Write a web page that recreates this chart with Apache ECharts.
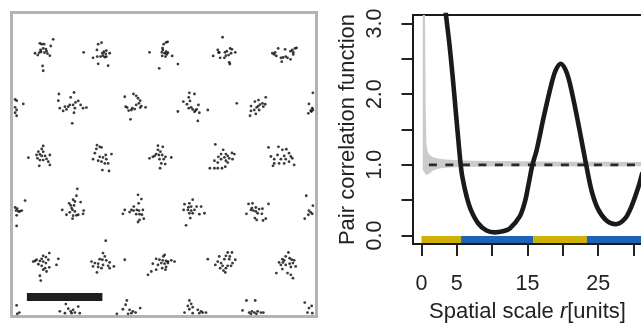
<!DOCTYPE html>
<html>
<head>
<meta charset="utf-8">
<script src="https://cdn.jsdelivr.net/npm/echarts@6/dist/echarts.min.js"></script>
<style>
html,body{margin:0;padding:0;background:#fff;}
#chart{width:641px;height:324px;}
</style>
</head>
<body>
<div id="chart"></div>
<script>
// ---------- Left panel: point pattern (window 0..100 units, y measured from top) ----------
var row1 = [
  [13.3,8.4],[8.9,9.7],[9.5,10.0],[10.3,10.0],[12.5,10.6],[10.0,11.4],[10.9,11.6],[9.3,12.5],[8.7,12.8],[10.4,12.8],[11.4,13.1],[7.3,13.0],[8.2,13.6],[12.2,13.8],[9.8,17.2],[10.0,18.8],[9.1,11.9],[11.1,12.3],
  [28.2,10.0],[29.3,9.5],[27.8,11.9],[30.1,12.5],[30.9,12.1],[32.0,13.0],[23.4,12.7],[26.5,14.5],[27.9,14.1],[29.0,14.1],[29.8,13.8],[30.4,14.3],[30.9,14.1],[28.2,16.5],[31.5,17.1],[29.6,13.0],[30.7,13.2],
  [50.7,9.4],[49.9,10.0],[51.2,9.2],[49.6,11.9],[49.3,12.7],[50.7,12.5],[50.2,13.0],[51.3,12.8],[49.4,13.9],[50.5,14.1],[45.2,12.7],[48.4,18.0],[52.7,13.9],[54.6,16.6],[49.5,11.3],[50.9,13.4],
  [69.4,7.7],[67.8,11.9],[68.3,12.7],[70.2,12.7],[70.8,12.3],[71.9,11.4],[72.5,11.7],[73.6,12.7],[72.2,13.0],[71.4,13.6],[70.5,13.8],[66.3,13.9],[68.6,14.5],[70.0,14.5],[71.6,16.0],[71.8,16.6],[68.1,12.8],
  [93.9,11.2],[93.4,11.4],[92.5,11.9],[91.9,12.3],[92.8,12.7],[90.1,11.7],[87.8,11.4],[86.8,12.7],[85.9,13.0],[87.2,13.9],[88.7,14.5],[89.4,14.4],[90.3,14.1],[90.9,14.5],[91.9,15.0],[89.0,15.8],[92.8,13.4],[86.5,13.4]
];
var row2 = [
  [0.7,28.3],[1.2,28.7],[3.4,29.8],[0.7,30.9],[1.2,31.8],[0.7,32.7],[1.2,33.7],
  [20.2,26.0],[15.2,26.5],[19.1,27.6],[15.0,28.7],[21.6,28.8],[20.7,29.3],[18.8,30.1],[19.9,30.1],[17.2,30.7],[18.3,30.7],[15.5,31.2],[22.4,30.1],[23.2,31.2],[24.3,31.0],[16.6,32.1],[20.5,31.2],[20.2,32.7],[19.6,36.2],[17.7,31.6],
  [39.9,26.5],[40.8,27.1],[37.0,27.4],[41.4,27.9],[42.1,28.7],[41.7,29.6],[40.8,30.1],[42.5,30.5],[42.1,31.0],[43.9,30.9],[37.3,30.7],[37.8,31.0],[39.5,31.2],[39.2,31.8],[40.3,31.5],[38.9,34.9],[38.3,32.0],
  [58.4,26.1],[60.1,26.5],[58.2,27.6],[56.4,29.0],[58.6,28.8],[57.6,29.9],[61.4,30.1],[59.0,30.9],[58.2,31.2],[59.5,31.6],[60.4,32.0],[60.8,31.6],[61.7,32.7],[54.6,32.3],[64.5,31.8],[61.2,35.4],[60.1,32.4],
  [74.1,29.6],[83.7,27.6],[81.3,28.5],[80.1,29.0],[82.6,29.6],[83.5,29.9],[78.8,30.5],[81.2,30.5],[80.7,30.9],[79.9,31.8],[81.5,31.8],[78.8,32.1],[78.5,33.7],[80.4,33.1],[82.9,30.7],[81.8,30.0],
  [99.3,26.1],[98.0,29.8],[99.1,31.2],[98.6,32.0],[97.8,32.9],[98.8,32.3],[99.3,31.8]
];
var row3 = [
  [10.0,43.7],[9.5,44.7],[8.4,45.6],[10.0,45.6],[8.9,46.5],[7.8,46.7],[9.5,47.0],[10.6,47.0],[12.2,46.7],[5.1,47.6],[8.9,48.4],[10.0,48.4],[11.7,48.9],[8.7,50.3],[12.2,50.0],[8.1,47.8],[11.1,48.0],
  [27.8,43.4],[28.7,44.0],[27.6,44.7],[29.3,44.2],[27.1,46.1],[30.7,46.7],[32.6,46.4],[26.5,48.1],[28.7,47.3],[29.8,47.5],[30.9,48.1],[29.3,48.9],[30.4,49.5],[31.5,49.5],[29.6,51.7],[31.8,52.0],[28.2,48.6],
  [48.0,43.6],[49.6,44.0],[48.0,45.0],[48.8,45.6],[47.4,46.4],[48.3,46.7],[49.4,46.7],[46.3,47.3],[45.2,47.8],[50.5,47.3],[52.4,47.5],[48.5,48.1],[49.9,48.1],[49.1,49.5],[50.4,49.7],[48.7,51.1],[46.9,47.0],
  [67.0,43.2],[69.6,45.0],[72.5,46.0],[68.9,46.4],[70.5,46.4],[71.1,47.0],[68.0,47.3],[70.0,47.5],[71.6,47.8],[72.7,48.1],[66.7,48.6],[68.9,48.1],[70.5,48.6],[67.8,49.2],[71.1,49.2],[65.2,51.1],[66.7,51.1],[67.8,51.1],[69.2,51.1],[70.3,50.6],[73.3,46.4],
  [84.6,44.2],[87.9,44.0],[89.2,45.0],[90.5,44.8],[91.4,46.1],[85.4,47.2],[87.6,46.7],[89.8,47.0],[92.0,47.2],[86.5,48.1],[88.7,48.1],[90.3,48.1],[92.5,47.8],[86.5,49.5],[88.1,49.5],[89.8,49.5],[93.1,50.0],[91.4,48.9],[86.1,50.3]
];
var row4 = [
  [0.7,64.1],[1.4,64.5],[1.0,65.1],[1.8,65.4],[2.3,65.4],[2.9,65.1],[4.0,61.8],[1.2,66.7],[1.2,70.2],
  [21.3,57.9],[21.0,60.2],[19.9,61.5],[18.6,62.7],[20.5,62.1],[22.4,62.3],[19.1,63.4],[20.2,63.4],[16.3,64.9],[19.7,64.9],[18.8,65.7],[20.5,65.4],[23.4,65.1],[17.7,66.5],[19.9,66.8],[21.0,66.7],[21.6,66.5],[19.7,67.8],[23.2,66.2],[19.4,64.3],
  [41.4,59.9],[42.5,61.3],[41.6,62.7],[40.0,63.8],[37.0,64.9],[39.2,64.9],[39.9,65.1],[41.0,64.9],[41.7,65.1],[43.0,64.9],[40.8,66.3],[41.9,66.3],[42.7,66.5],[36.4,66.2],[43.3,67.8],[41.9,68.2],[41.4,68.9],[38.6,65.6],
  [59.5,61.5],[58.4,62.7],[56.8,63.0],[59.0,63.8],[60.8,63.8],[62.3,63.8],[56.5,64.9],[57.9,64.9],[59.0,65.1],[60.1,64.9],[58.4,66.0],[59.5,66.0],[61.7,66.3],[63.4,66.0],[58.7,67.6],[57.3,70.0],[58.1,64.0],
  [78.0,62.9],[79.3,62.7],[84.6,62.9],[77.3,66.2],[79.1,64.3],[80.4,64.1],[81.5,64.6],[82.6,64.5],[79.6,65.1],[80.4,65.4],[81.0,66.0],[82.4,66.2],[80.1,67.6],[80.7,68.2],[82.8,68.4],[83.7,67.8],[78.8,64.9],
  [97.1,60.2],[99.3,63.5],[98.0,65.1],[98.6,65.7],[99.1,66.2],[97.8,66.5],[96.6,67.8]
];
var row5 = [
  [12.0,79.2],[10.0,80.1],[10.9,80.5],[7.8,81.4],[9.5,81.1],[8.9,81.8],[6.7,82.0],[10.0,82.0],[11.7,81.4],[10.9,82.5],[8.4,82.9],[9.5,83.4],[10.6,84.2],[10.0,84.7],[11.1,85.3],[15.0,81.1],[14.4,83.1],[8.9,86.7],[9.2,88.3],[7.3,81.8],[12.0,83.9],
  [30.7,75.1],[29.8,79.2],[30.4,80.3],[28.7,81.2],[29.6,81.4],[30.9,81.6],[32.0,82.3],[26.0,82.0],[27.1,82.5],[28.2,82.7],[29.8,83.1],[31.5,83.4],[29.3,84.2],[28.2,83.8],[33.4,83.6],[32.0,84.2],[27.8,85.6],[37.0,81.4],[26.5,83.6],
  [50.2,79.8],[47.4,81.1],[48.5,81.4],[49.6,81.6],[50.7,81.8],[46.3,82.7],[48.0,83.1],[49.1,82.5],[50.2,82.7],[50.7,83.8],[47.4,84.7],[45.8,85.3],[44.7,86.4],[49.4,84.2],[51.3,82.0],[52.4,81.6],[53.5,82.0],[50.5,84.7],[51.3,82.5],[49.8,80.3],
  [71.1,79.0],[72.5,79.0],[70.5,80.1],[71.8,80.3],[73.6,81.4],[68.3,80.3],[70.0,81.2],[71.6,81.2],[64.5,81.2],[67.8,82.0],[68.9,82.5],[67.0,83.1],[69.4,83.4],[71.1,83.4],[72.2,83.4],[68.6,84.2],[70.5,84.2],[69.7,85.0],[70.3,85.6],[72.7,82.5],
  [91.2,79.0],[90.3,80.3],[91.6,80.9],[89.2,81.2],[92.3,81.4],[93.1,81.6],[88.1,82.3],[89.4,82.3],[88.7,83.1],[90.3,83.1],[91.6,82.7],[92.7,82.5],[92.0,83.8],[93.6,83.6],[89.2,84.5],[90.9,85.8],[92.0,86.4],[92.7,87.5],[87.2,85.8],[89.8,81.6]
];
var row6 = [
  [1.2,96.5],[2.1,98.9],[1.4,99.3],
  [17.5,96.1],[21.6,96.9],[18.3,97.6],[19.9,98.0],[19.1,98.5],[15.5,98.5],[17.2,99.1],[19.4,99.1],[20.5,98.9],[22.1,99.1],
  [37.7,94.9],[37.3,96.3],[42.1,97.4],[36.4,97.8],[38.6,98.0],[39.7,98.5],[40.6,98.9],[38.1,99.3],[34.4,99.3],[39.2,99.1],
  [58.4,94.9],[59.0,96.0],[57.9,96.7],[59.5,97.1],[58.4,97.8],[61.2,98.0],[62.3,98.5],[62.8,98.9],[56.8,98.9],[61.7,99.1],[63.9,98.9],[59.5,99.1],
  [77.3,94.9],[80.2,94.9],[76.0,98.2],[78.2,98.9],[79.1,98.5],[79.9,98.9],[81.0,98.5],[82.1,98.9],[82.9,98.9],[78.8,99.3],[80.6,99.3],
  [96.6,95.6],[98.9,96.7],[98.0,97.4],[97.5,98.9],[99.1,99.1]
];
var scaleBarX = [4.6, 29.6];   // 25 units
var scaleBarY = 93.7;

// ---------- Right panel: pair correlation function ----------
var pcfR = [2.5,3.0,3.47,3.94,4.41,4.83,5.26,5.54,5.78,6.39,7.0,8.04,9.2,10.4,11.5,12.5,13.9,14.64,15.1,15.7,16.3,17.3,18.4,19.0,19.7,20.4,21.0,22.0,22.9,23.3,24.1,25.0,26.2,27.5,28.8,29.7,30.7,31.2];
var pcfG = [4.2,3.6,3.12,2.72,2.25,1.78,1.30,1.01,0.83,0.55,0.36,0.17,0.07,0.045,0.06,0.10,0.27,0.48,0.70,1.0,1.21,1.68,2.15,2.34,2.43,2.34,2.15,1.68,1.21,1.0,0.62,0.37,0.21,0.16,0.24,0.41,0.69,0.87];
var envR  = [0.17,0.5,0.6,0.7,0.85,1.0,1.3,1.6,2.2,3.0,4.5,6,9,14,20,26,31.2];
var envHi = [3.12,3.12,1.8,1.3,1.2,1.16,1.13,1.11,1.095,1.08,1.07,1.06,1.055,1.05,1.045,1.045,1.04];
var envLo = [0.93,0.88,0.865,0.86,0.86,0.87,0.89,0.915,0.94,0.955,0.965,0.97,0.975,0.975,0.978,0.978,0.98];
var refLineR = [1.05, 31.2];
var refLineG = 1;
var scaleSegStart = [0, 5.6, 15.8, 23.4];
var scaleSegEnd   = [5.6, 15.8, 23.4, 31.2];
var scaleSegKind  = ['above', 'below', 'above', 'below'];
var xTicks = [0,5,10,15,20,25,30];
var xTickLabels = [0,5,15,25];
var yTicks = [0,0.5,1,1.5,2,2.5,3];
var yTickLabels = [0,1,2,3];

var FONT = 'Liberation Sans, Arial, sans-serif';
var TXT = '#222';
var segColors = {above: '#cdb105', below: '#1f63b8'};

var pts = row1.concat(row2, row3, row4, row5, row6);

var series = [
  {type:'scatter', xAxisIndex:0, yAxisIndex:0, data: pts, symbol:'circle', symbolSize:2.8,
   itemStyle:{color:'#0a0a0a'}, silent:true},
  {type:'line', xAxisIndex:0, yAxisIndex:0, data: scaleBarX.map(function(x){return [x, scaleBarY];}),
   symbol:'none', lineStyle:{color:'#1e1e1e', width:8, cap:'butt'}, silent:true},
  {type:'custom', xAxisIndex:1, yAxisIndex:1, clip:true, silent:true,
   data: envR.map(function(r,i){return [r, envLo[i], envHi[i]];}),
   encode:{x:0, y:[1,2]},
   renderItem:function(params, api){
     if (params.dataIndex !== 0) return null;
     var up = [], lo = [];
     for (var i = 0; i < envR.length; i++) {
       up.push(api.coord([envR[i], envHi[i]]));
       lo.push(api.coord([envR[i], envLo[i]]));
     }
     return {type:'polygon', shape:{points: up.concat(lo.reverse())}, style:{fill:'#cbcbcb', stroke:null}};
   }},
  {type:'line', xAxisIndex:1, yAxisIndex:1, data: refLineR.map(function(r){return [r, refLineG];}),
   symbol:'none', lineStyle:{color:'#2a2a2a', width:2.6, type:[8,8.5], cap:'butt'}, silent:true}
];
for (var k = 0; k < scaleSegStart.length; k++) {
  series.push({type:'line', xAxisIndex:1, yAxisIndex:1,
    data: [[scaleSegStart[k], -0.058], [scaleSegEnd[k], -0.058]],
    symbol:'none', lineStyle:{color: segColors[scaleSegKind[k]], width:7, cap:'butt'}, silent:true});
}
series.push({type:'line', xAxisIndex:1, yAxisIndex:1, data: pcfR.map(function(r,i){return [r, pcfG[i]];}),
  symbol:'none', smooth:0.3, lineStyle:{color:'#1a1a1a', width:4.6, cap:'round', join:'round'}, silent:true});

var chart = echarts.init(document.getElementById('chart'), null, {renderer:'canvas'});
chart.setOption({
  animation:false,
  backgroundColor:'#ffffff',
  grid:[
    {left:11.5, top:12.5, width:305, height:304, show:true, borderColor:'#b3b3b3', borderWidth:3, backgroundColor:'transparent', containLabel:false, outerBoundsMode:'none'},
    {left:413, top:15, width:229, height:229, show:true, borderColor:'#1a1a1a', borderWidth:2, backgroundColor:'transparent', containLabel:false, outerBoundsMode:'none'}
  ],
  xAxis:[
    {gridIndex:0, type:'value', min:-0.5, max:100.5, show:false},
    {gridIndex:1, type:'value', min:-1.2, max:31.2,
     axisLine:{show:false, onZero:false}, splitLine:{show:false},
     axisTick:{show:true, customValues:xTicks, length:12, lineStyle:{color:'#222', width:2}},
     axisLabel:{show:true, customValues:xTickLabels, margin:29, fontSize:21.5, color:TXT, fontFamily:FONT},
     name:'Spatial scale {it|r}[units]', nameLocation:'middle', nameGap:57,
     nameTextStyle:{fontSize:22, color:TXT, fontFamily:FONT,
       rich:{it:{fontStyle:'italic', fontSize:22, color:TXT, fontFamily:FONT}}}}
  ],
  yAxis:[
    {gridIndex:0, type:'value', min:-0.5, max:100.2, inverse:true, show:false},
    {gridIndex:1, type:'value', min:-0.12, max:3.12,
     axisLine:{show:false, onZero:false}, splitLine:{show:false},
     axisTick:{show:true, customValues:yTicks, length:11.5, lineStyle:{color:'#222', width:2}},
     axisLabel:{show:true, customValues:yTickLabels, rotate:90, margin:27, fontSize:21.5, color:TXT, fontFamily:FONT,
       formatter:function(v){return Number(v).toFixed(1);}},
     name:'Pair correlation function', nameLocation:'middle', nameGap:54,
     nameTextStyle:{fontSize:22, color:TXT, fontFamily:FONT}}
  ],
  series: series
});
</script>
</body>
</html>
